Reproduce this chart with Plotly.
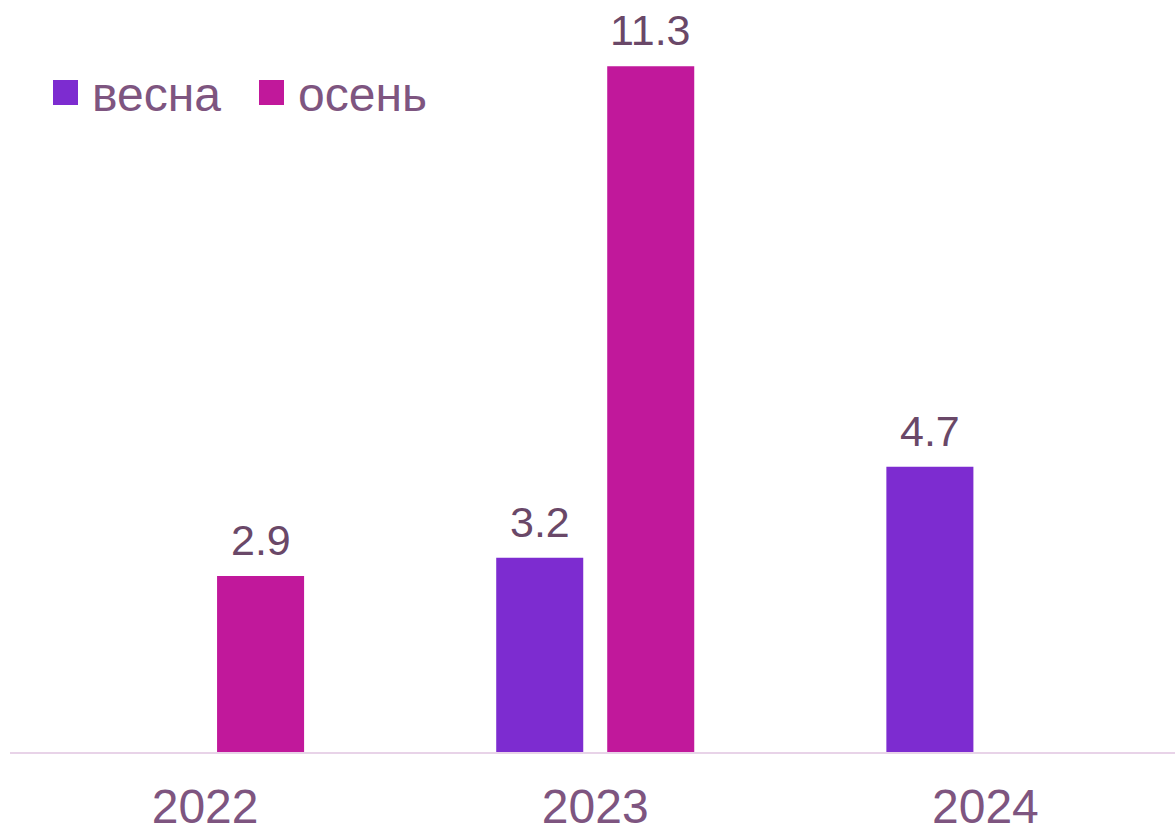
import plotly.graph_objects as go

years = ["2022", "2023", "2024"]
spring = [None, 3.2, 4.7]
autumn = [2.9, 11.3, None]
series_names = ["весна", "осень"]
colors = ["#7D2CD0", "#C1189B"]

label_color = "#6A4868"
text_color = "#7E5580"
font_family = "Liberation Sans, Arial, sans-serif"

W, H = 1175, 829
ML, MR, MT, MB = 10, 0, 0, 77
BARGAP, GROUPGAP = 0.431, 0.216
XRANGE = [-0.5, 2.486]
YRANGE = [0, 12.39]

plot_w = W - ML - MR
plot_h = H - MT - MB
cat_px = plot_w / (XRANGE[1] - XRANGE[0])
slot_px = cat_px * (1 - BARGAP) / len(series_names)

fig = go.Figure()
annotations = []
for i, (name, vals, col) in enumerate(zip(series_names, [spring, autumn], colors)):
    fig.add_trace(go.Bar(
        x=years, y=vals, name=name,
        marker=dict(color=col, line=dict(width=0)),
        showlegend=False,
    ))
    xshift = (i - (len(series_names) - 1) / 2) * slot_px
    for j, v in enumerate(vals):
        if v is None:
            continue
        annotations.append(dict(
            x=j, y=v, xref="x", yref="y", text=f"{v:.1f}",
            showarrow=False, xanchor="center", yanchor="bottom",
            xshift=xshift, yshift=10,
            font=dict(size=43, color=label_color, family=font_family),
        ))

# manual legend (large square swatches)
legend_items = [(53, 90), (259, 296)]
sq = 25
sq_top = 80
shapes = []
for (sx, tx), name, col in zip(legend_items, series_names, colors):
    shapes.append(dict(
        type="rect", xref="paper", yref="paper",
        x0=(sx - ML) / plot_w, x1=(sx + sq - ML) / plot_w,
        y0=(plot_h - (sq_top + sq)) / plot_h, y1=(plot_h - sq_top) / plot_h,
        fillcolor=col, line=dict(width=0),
    ))
    annotations.append(dict(
        x=(tx - ML) / plot_w, y=(plot_h - 94) / plot_h,
        xref="paper", yref="paper", text=name, showarrow=False,
        xanchor="left", yanchor="middle",
        font=dict(size=48, color=text_color, family=font_family),
    ))

fig.update_layout(
    width=W, height=H,
    margin=dict(l=ML, r=MR, t=MT, b=MB, autoexpand=False),
    paper_bgcolor="white", plot_bgcolor="white",
    barmode="group", bargap=BARGAP, bargroupgap=GROUPGAP,
    font=dict(family=font_family, color=text_color),
    showlegend=False,
    xaxis=dict(
        type="category", range=XRANGE, showgrid=False, zeroline=False,
        showline=True, linecolor="#E8D3E8", linewidth=2,
        ticks="", tickfont=dict(size=48, color=text_color),
        ticklabelstandoff=11, automargin=False,
    ),
    yaxis=dict(range=YRANGE, visible=False, showgrid=False, zeroline=False,
               automargin=False),
    annotations=annotations,
    shapes=shapes,
)

fig.write_html("out.html")
